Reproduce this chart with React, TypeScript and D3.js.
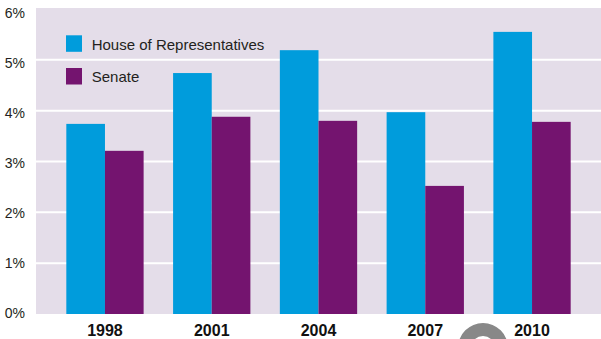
import React from "react";
import * as d3 from "d3";

const years = ["1998", "2001", "2004", "2007", "2010"];
const houseValues = [3.74, 4.74, 5.19, 3.97, 5.55];
const senateValues = [3.21, 3.88, 3.8, 2.52, 3.78];
const seriesNames = ["House of Representatives", "Senate"];
const seriesColors = ["#009cdc", "#74146f"];
const yTicks = [0, 1, 2, 3, 4, 5, 6];

const W = 601;
const H = 339;
const plotLeft = 36;
const plotRight = 601;
const plotBottom = 314;
const plotTop = 9;

export default function App() {
  const x = d3
    .scaleBand<string>()
    .domain(years)
    .range([plotLeft, plotRight])
    .paddingInner(0.276)
    .paddingOuter(0.284);
  const xs = d3
    .scaleBand<string>()
    .domain(seriesNames)
    .range([0, x.bandwidth()]);
  const y = d3.scaleLinear().domain([0, 6]).range([plotBottom, plotTop]);
  const labelY = d3.scaleLinear().domain([0, 6]).range([318.3, 18]);

  const series = [houseValues, senateValues];
  const font = "'Liberation Sans', Arial, sans-serif";

  const ringArc = d3.arc()({
    innerRadius: 12,
    outerRadius: 25,
    startAngle: 0,
    endAngle: Math.PI * 2,
  } as any) as string;

  return (
    <svg
      width={W}
      height={H}
      style={{ position: "absolute", left: 0, top: 0, display: "block" }}
      fontFamily={font}
    >
      <rect x={0} y={0} width={W} height={H} fill="#ffffff" />
      <rect
        x={plotLeft}
        y={y(6) - 1}
        width={plotRight - plotLeft}
        height={plotBottom - y(6) + 1}
        fill="#e4dde9"
      />
      {yTicks
        .filter((t) => t > 0 && t < 6)
        .map((t) => (
          <line
            key={"g" + t}
            x1={plotLeft}
            x2={plotRight}
            y1={y(t)}
            y2={y(t)}
            stroke="#ffffff"
            strokeWidth={2}
          />
        ))}
      {yTicks.map((t) => (
        <text
          key={"t" + t}
          x={25}
          y={labelY(t)}
          textAnchor="end"
          fontSize={14}
          fill="#231f20"
        >
          {t + "%"}
        </text>
      ))}
      {years.map((yr, i) => (
        <g key={yr} transform={`translate(${x(yr)},0)`}>
          {series.map((vals, s) => (
            <rect
              key={s}
              x={xs(seriesNames[s])}
              y={y(vals[i])}
              width={xs.bandwidth()}
              height={plotBottom - y(vals[i])}
              fill={seriesColors[s]}
            />
          ))}
        </g>
      ))}
      <path d={ringArc} transform="translate(483,348)" fill="#888888" />
      {years.map((yr) => (
        <text
          key={"x" + yr}
          x={(x(yr) as number) + x.bandwidth() / 2}
          y={335.5}
          textAnchor="middle"
          fontSize={16}
          fontWeight="bold"
          fill="#111111"
        >
          {yr}
        </text>
      ))}
      {seriesNames.map((name, s) => (
        <g key={name}>
          <rect
            x={66}
            y={35.3 + s * 32.7}
            width={16}
            height={16.5}
            fill={seriesColors[s]}
          />
          <text x={91.7} y={50 + s * 31.7} fontSize={15} fill="#231f20">
            {name}
          </text>
        </g>
      ))}
    </svg>
  );
}
